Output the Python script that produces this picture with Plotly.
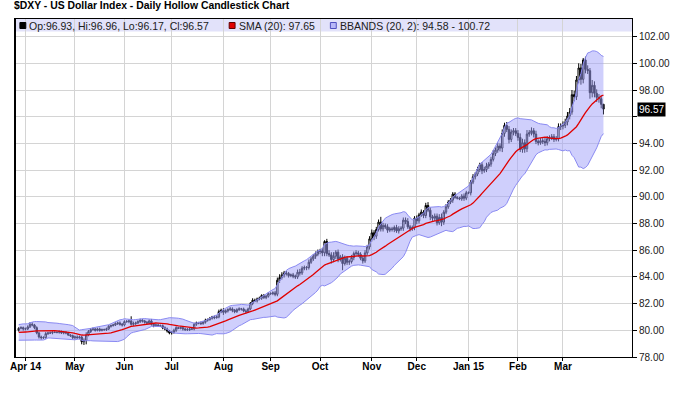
import numpy as np
import pandas as pd
import plotly.graph_objects as go

# ---------------- data ----------------
# 20 closes before the first visible candle (needed for SMA / BBANDS warm-up)
warmup_closes = [80.30, 79.70, 80.00, 80.10, 80.20, 79.80, 79.70, 79.80, 79.80, 79.60,
                 79.40, 79.40, 79.40, 79.30, 79.90, 80.20, 80.10, 80.10, 80.20, 80.00]

closes_mar14 = [80.15, 80.20, 80.10]
closes_apr14 = [80.10, 80.25, 80.45, 80.40, 80.20, 79.80, 79.50, 79.45, 79.45, 79.75, 79.80,
                79.80, 79.85, 79.85, 79.85, 79.90, 79.80, 79.85, 79.80, 79.65, 79.60, 79.45]
closes_may14 = [79.50, 79.45, 79.50, 79.15, 79.25, 79.65, 79.90, 80.05, 80.10, 80.00, 80.10,
                80.00, 80.05, 80.05, 80.10, 80.30, 80.35, 80.40, 80.50, 80.55, 80.45, 80.40]
closes_jun14 = [80.65, 80.65, 80.70, 80.45, 80.50, 80.55, 80.65, 80.75, 80.70, 80.60, 80.55,
                80.70, 80.45, 80.35, 80.40, 80.35, 80.35, 80.20, 80.10, 79.95, 79.80]
closes_jul14 = [79.85, 80.00, 80.20, 80.15, 80.20, 80.10, 80.05, 80.05, 80.10, 80.10, 80.45,
                80.55, 80.55, 80.50, 80.60, 80.75, 80.80, 80.90, 81.00, 80.95, 81.00, 81.40, 81.50]
closes_aug14 = [81.35, 81.45, 81.55, 81.60, 81.50, 81.40, 81.55, 81.60, 81.60, 81.45, 81.40,
                81.60, 82.00, 82.25, 82.20, 82.35, 82.40, 82.60, 82.45, 82.55, 82.75]
closes_sep14 = [82.75, 82.80, 82.70, 83.75, 83.95, 84.15, 84.30, 84.25, 84.10, 84.15, 84.05,
                84.00, 84.35, 84.30, 84.65, 84.70, 84.70, 85.10, 85.35, 85.55, 85.70, 85.90]
closes_oct14 = [85.95, 85.80, 86.65, 85.75, 85.65, 85.30, 85.55, 85.85, 85.35, 85.50, 85.00,
                85.40, 85.10, 85.15, 85.45, 85.75, 85.80, 85.70, 85.40, 85.20, 85.80, 86.25, 86.85]
closes_nov14 = [87.30, 87.05, 87.55, 88.10, 87.60, 87.85, 87.75, 87.50, 87.60, 87.55,
                87.70, 87.45, 87.60, 87.65, 88.25, 88.15, 87.75, 87.60, 87.70, 88.40]
closes_dec14 = [88.20, 88.65, 88.85, 88.60, 89.35, 89.00, 88.50, 88.40, 88.55, 88.05, 88.45,
                88.10, 88.85, 89.25, 89.60, 89.75, 90.20, 89.95, 89.90, 89.85, 90.05, 89.90, 90.30]
closes_jan15 = [90.30, 91.10, 91.50, 91.70, 92.05, 92.40, 91.95, 92.05, 92.30, 92.45, 92.80,
                93.25, 93.50, 93.80, 93.65, 94.75, 95.35, 95.05, 94.30, 94.85, 94.95, 94.75]
closes_feb15 = [94.45, 93.55, 94.05, 93.60, 94.70, 94.80, 94.95, 94.70, 94.15, 94.05,
                94.20, 94.15, 94.05, 94.35, 94.40, 94.50, 94.30, 94.35, 95.25, 95.30]
closes_mar15 = [95.35, 95.60, 96.05, 96.35, 97.65, 97.50, 98.75, 99.65, 98.80, 100.25,
                99.55, 99.45, 97.80, 98.35, 97.75, 97.45, 97.35, 96.93, 96.57]

# upper / lower shadow lengths, in hundredths of a point
hi_wick = ([8, 10, 8] +
           [10, 12, 15, 15, 8, 10, 8, 10, 10, 12, 8, 10, 8, 6, 6, 10, 8, 10, 8, 8, 6, 8] +
           [10, 12, 10, 8, 15, 20, 12, 12, 10, 8, 10, 10, 8, 8, 10, 10, 8, 8, 10, 10, 12, 10] +
           [10, 12, 10, 35, 15, 10, 10, 12, 10, 8, 10, 12, 15, 10, 8, 10, 8, 8, 10, 10, 8] +
           [10, 12, 10, 6, 8, 10, 10, 12, 8, 10, 12, 10, 8, 10, 10, 12, 8, 10, 8, 10, 12, 15, 12] +
           [15, 12, 10, 15, 12, 10, 10, 12, 8, 10, 12, 10, 12, 15, 12, 10, 12, 10, 12, 10, 12] +
           [10, 12, 15, 20, 25, 20, 15, 15, 12, 10, 15, 12, 20, 25, 15, 15, 12, 20, 15, 15, 20, 15] +
           [15, 20, 10, 20, 25, 20, 30, 15, 20, 15, 20, 20, 15, 15, 20, 15, 20, 15, 15, 15, 20, 15, 20] +
           [25, 20, 20, 20, 40, 20, 15, 20, 15, 15, 15, 20, 20, 15, 20, 20, 25, 15, 15, 15] +
           [20, 15, 20, 15, 20, 25, 20, 15, 20, 20, 25, 30, 15, 20, 15, 15, 15, 15, 10, 10, 15, 20, 15] +
           [10, 15, 20, 15, 20, 15, 20, 20, 25, 15, 20, 25, 20, 25, 20, 30, 20, 25, 25, 20, 20, 20] +
           [25, 30, 30, 25, 30, 20, 25, 20, 25, 15, 20, 20, 25, 20, 20, 20, 20, 20, 25, 20] +
           [30, 25, 30, 30, 35, 30, 30, 35, 30, 15, 25, 30, 20, 40, 30, 30, 25, 25, 3])
lo_wick = ([10, 8, 12] +
           [10, 8, 8, 10, 12, 10, 12, 15, 10, 8, 10, 8, 10, 6, 8, 10, 8, 10, 10, 8, 10, 12] +
           [12, 10, 12, 20, 25, 30, 10, 10, 8, 10, 8, 10, 8, 8, 10, 8, 10, 6, 8, 10, 10, 12] +
           [10, 8, 12, 10, 12, 10, 8, 10, 12, 10, 8, 10, 10, 12, 8, 10, 10, 12, 10, 12, 10] +
           [12, 10, 12, 6, 8, 12, 10, 10, 10, 8, 10, 12, 10, 10, 8, 10, 10, 8, 10, 12, 8, 10, 12] +
           [20, 10, 12, 10, 15, 12, 10, 10, 12, 10, 15, 10, 10, 12, 10, 12, 10, 12, 10, 12, 10] +
           [10, 12, 15, 15, 20, 15, 20, 15, 15, 12, 15, 15, 15, 20, 15, 15, 20, 15, 12, 15, 20, 15] +
           [20, 25, 25, 20, 15, 30, 20, 20, 25, 20, 50, 15, 20, 20, 15, 20, 15, 20, 15, 20, 15, 15, 20] +
           [20, 30, 20, 15, 20, 20, 15, 20, 15, 15, 20, 15, 20, 15, 20, 20, 15, 20, 15, 20] +
           [25, 20, 15, 20, 20, 15, 25, 20, 20, 20, 15, 30, 20, 15, 15, 15, 20, 10, 10, 10, 15, 20, 15] +
           [10, 20, 15, 20, 15, 20, 25, 15, 20, 20, 20, 15, 20, 20, 25, 30, 25, 20, 30, 20, 25, 20] +
           [25, 20, 25, 30, 25, 20, 20, 25, 20, 20, 15, 20, 25, 20, 20, 15, 20, 15, 20, 25] +
           [25, 20, 25, 25, 20, 35, 25, 25, 40, 30, 30, 25, 45, 35, 30, 35, 30, 30, 40])

month_labels = ["Apr 14", "May", "Jun", "Jul", "Aug", "Sep", "Oct", "Nov", "Dec", "Jan 15", "Feb", "Mar"]
y_tick_values = [78, 80, 82, 84, 86, 88, 90, 92, 94, 96, 98, 100, 102]

title_text = "$DXY - US Dollar Index - Daily Hollow Candlestick Chart"
legend_ohlc = "Op:96.93, Hi:96.96, Lo:96.17, Cl:96.57"
legend_sma = "SMA (20): 97.65"
legend_bb = "BBANDS (20, 2): 94.58 - 100.72"
last_close_label = "96.57"
last_close_value = 96.57

# ---------------- derived ----------------
closes = (closes_mar14 + closes_apr14 + closes_may14 + closes_jun14 + closes_jul14 +
          closes_aug14 + closes_sep14 + closes_oct14 + closes_nov14 + closes_dec14 +
          closes_jan15 + closes_feb15 + closes_mar15)
n = len(closes)
dates = pd.bdate_range("2014-03-27", periods=n)
xi = np.arange(n)

opens = [warmup_closes[-1]] + closes[:-1]
highs = [max(o, c) + h / 100 for o, c, h in zip(opens, closes, hi_wick)]
lows = [min(o, c) - l / 100 for o, c, l in zip(opens, closes, lo_wick)]

allc = pd.Series(warmup_closes + closes, dtype=float)
sma = allc.rolling(20).mean().iloc[len(warmup_closes):].to_numpy()
sd = allc.rolling(20).std(ddof=0).iloc[len(warmup_closes):].to_numpy()
upper = sma + 2 * sd
lower = sma - 2 * sd

months = dates.to_period("M")
tick_idx = [i for i in range(1, n) if months[i] != months[i - 1]]
tick_text = ["<b>%s</b>" % t for t in month_labels[:len(tick_idx)]]

FONT = "Liberation Sans, Arial, sans-serif"

fig = go.Figure()
fig.add_trace(go.Scatter(x=xi, y=lower, mode="lines", line=dict(color="#8a8af2", width=1),
                         hoverinfo="skip", showlegend=False))
fig.add_trace(go.Scatter(x=xi, y=upper, mode="lines", line=dict(color="#8a8af2", width=1),
                         fill="tonexty", fillcolor="rgba(160,160,250,0.5)",
                         hoverinfo="skip", showlegend=False))
fig.add_trace(go.Scatter(x=xi, y=sma, mode="lines", line=dict(color="#e00000", width=1.3),
                         hoverinfo="skip", showlegend=False))
fig.add_trace(go.Candlestick(
    x=xi, open=opens, high=highs, low=lows, close=closes,
    increasing=dict(line=dict(color="black", width=1), fillcolor="white"),
    decreasing=dict(line=dict(color="black", width=1), fillcolor="black"),
    whiskerwidth=0, showlegend=False))

W, H = 680, 397
L, R, T, B = 10, 638, 19, 357


def px(xp):
    return (xp - L) / (R - L)


def py(yp):
    return (B - yp) / (B - T)


shapes = [
    dict(type="rect", xref="paper", yref="paper", x0=0, x1=1, y0=py(31.5), y1=1,
         fillcolor="#e2e2fa", line=dict(width=0), layer="below"),
    dict(type="rect", xref="paper", yref="paper", x0=px(15), x1=px(21), y0=py(28.5), y1=py(22.5),
         fillcolor="black", line=dict(color="black", width=1)),
    dict(type="rect", xref="paper", yref="paper", x0=px(228), x1=px(234), y0=py(28.5), y1=py(22.5),
         fillcolor="#e00000", line=dict(color="#600000", width=1)),
    dict(type="rect", xref="paper", yref="paper", x0=px(331), x1=px(337), y0=py(28.5), y1=py(22.5),
         fillcolor="#b8b8f8", line=dict(color="#5050c0", width=1)),
    dict(type="line", xref="paper", yref="paper", x0=0, x1=0, y0=0, y1=1,
         line=dict(color="black", width=2)),
]

ann_font = dict(family=FONT, size=10.5, color="#202020")
annotations = [
    dict(text="<b>" + title_text + "</b>", xref="paper", yref="paper", x=px(7), y=py(6),
         xanchor="left", yanchor="middle", showarrow=False,
         font=dict(family=FONT, size=10.4, color="black")),
    dict(text=legend_ohlc, xref="paper", yref="paper", x=px(22), y=py(25.5),
         xanchor="left", yanchor="middle", showarrow=False, font=ann_font),
    dict(text=legend_sma, xref="paper", yref="paper", x=px(236), y=py(25.5),
         xanchor="left", yanchor="middle", showarrow=False, font=ann_font),
    dict(text=legend_bb, xref="paper", yref="paper", x=px(339), y=py(25.5),
         xanchor="left", yanchor="middle", showarrow=False, font=ann_font),
    dict(text=last_close_label, xref="paper", yref="y", x=px(643), y=last_close_value,
         xanchor="left", yanchor="middle", showarrow=False, bgcolor="black", borderpad=1,
         font=dict(family=FONT, size=10, color="white")),
]

y_tick_text = ["" if v == 96 else "%.2f" % v for v in y_tick_values]

fig.update_layout(
    width=W, height=H,
    margin=dict(l=L, r=W - R, t=T, b=H - B, pad=0),
    paper_bgcolor="white", plot_bgcolor="white",
    showlegend=False, boxgap=0.1, hovermode=False,
    shapes=shapes, annotations=annotations,
    xaxis=dict(range=[-1.66, 272.7], tickmode="array", tickvals=tick_idx, ticktext=tick_text,
               showgrid=True, gridcolor="#d4d4d4", gridwidth=1, zeroline=False,
               ticks="outside", ticklen=3, tickcolor="black", ticklabelstandoff=-3,
               showline=True, linecolor="black", linewidth=1, mirror=True,
               tickfont=dict(family=FONT, size=10, color="black"),
               rangeslider=dict(visible=False), fixedrange=True),
    yaxis=dict(range=[78, 103.32], side="right", tickmode="array", tickvals=y_tick_values,
               ticktext=y_tick_text, showgrid=True, gridcolor="#d4d4d4", gridwidth=1,
               zeroline=False, ticks="outside", ticklen=4, tickcolor="black",
               showline=True, linecolor="black", linewidth=1, mirror=True,
               tickfont=dict(family=FONT, size=10, color="#202020"), fixedrange=True),
)

fig.write_html("out.html", config={"displayModeBar": False, "staticPlot": True},
               post_script="document.body.style.margin='0';")
